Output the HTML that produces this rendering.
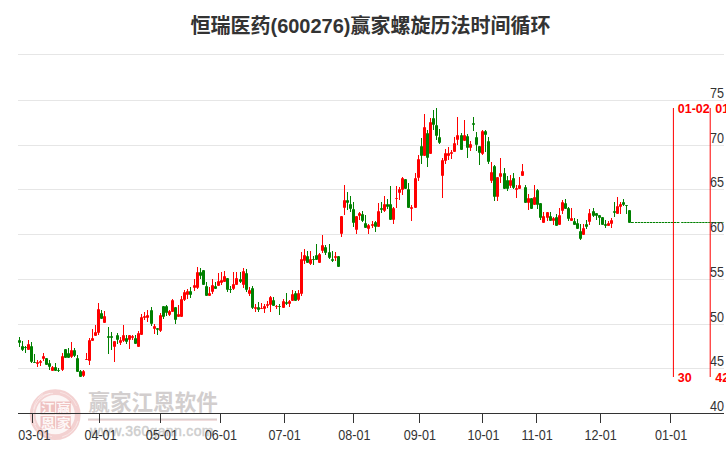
<!DOCTYPE html>
<html><head><meta charset="utf-8"><title>恒瑞医药(600276)赢家螺旋历法时间循环</title>
<style>
html,body{margin:0;padding:0;background:#fff;}
body{width:726px;height:450px;overflow:hidden;font-family:"Liberation Sans",sans-serif;}
svg{display:block;position:absolute;left:0;top:0;}
.ax{font-family:"Liberation Sans",sans-serif;font-size:14px;fill:#333;}
.wm{font-family:"Liberation Sans",sans-serif;font-weight:normal;font-size:14px;fill:#cecece;stroke:#cecece;stroke-width:0.45px;letter-spacing:0.35px;}
.seal{font-family:"Liberation Sans","Noto Sans CJK SC",sans-serif;font-weight:bold;font-size:14px;fill:#fff;opacity:0.88;}
.cyc{font-family:"Liberation Sans",sans-serif;font-weight:bold;font-size:12.5px;fill:#ff0000;}
</style></head><body>
<svg width="726" height="450" viewBox="0 0 726 450">
<rect width="726" height="450" fill="#fff"/>
<g id="watermark">
<g opacity="0.2">
<circle cx="55.2" cy="414.7" r="25" fill="#c8201f" opacity="0.18"/>
<circle cx="55.2" cy="414.7" r="22.5" fill="none" stroke="#c8201f" stroke-width="5.8"/>
</g>
<path d="M35.5 425 A22.3 22.3 0 0 1 50 393.5" fill="none" stroke="#fff" stroke-width="0.9" opacity="0.55"/>
<path d="M62 437 A23.5 23.5 0 0 0 78 421" fill="none" stroke="#fff" stroke-width="0.9" opacity="0.5"/>
<path d="M60 392.2 A23 23 0 0 1 76.5 406" fill="none" stroke="#fff" stroke-width="0.8" opacity="0.45"/>
<path d="M38 399 A21.5 21.5 0 0 1 53 393.3" fill="none" stroke="#fff" stroke-width="0.8" opacity="0.55"/>
<path d="M33.5 409 A24.2 24.2 0 0 1 43 393.5" fill="none" stroke="#fff" stroke-width="0.7" opacity="0.5"/>
<path d="M34 424 A22 22 0 0 0 52 436.6" fill="none" stroke="#fff" stroke-width="0.8" opacity="0.45"/>
<g fill="#c8201f" opacity="0.24">
<rect x="40.5" y="401.5" width="14.6" height="13"/><rect x="56.2" y="401.5" width="14.6" height="13"/>
<rect x="40.5" y="416" width="14.6" height="12.8"/><rect x="56.2" y="416" width="14.6" height="12.8"/>
</g>
<text class="seal" transform="translate(41,413.3) scale(1,0.86)" x="0" y="0">江</text>
<text class="seal" transform="translate(56.7,413.3) scale(1,0.86)" x="0" y="0">赢</text>
<text class="seal" transform="translate(41,427.5) scale(1,0.86)" x="0" y="0">恩</text>
<text class="seal" transform="translate(56.7,427.5) scale(1,0.86)" x="0" y="0">家</text>
<text x="88.3" y="409.7" font-family="&quot;Liberation Sans&quot;,&quot;Noto Sans CJK SC&quot;,sans-serif" font-weight="bold" font-size="21.6" fill="#d2cece">赢家江恩软件</text>
<rect x="88" y="418" width="129" height="1" fill="#e9e7e6"/><rect x="88" y="419" width="129" height="1" fill="#ddcdcd"/><rect x="88" y="420" width="129" height="1" fill="#f1dede"/>
<text class="wm" x="90.3" y="435.5">www.360gann.com</text>
</g>
<g id="grid" shape-rendering="crispEdges">
<rect x="18" y="54" width="706" height="1" fill="#e6e6e6"/>
<rect x="18" y="100" width="706" height="1" fill="#e6e6e6"/>
<rect x="18" y="145" width="706" height="1" fill="#e6e6e6"/>
<rect x="18" y="189" width="706" height="1" fill="#e6e6e6"/>
<rect x="18" y="234" width="706" height="1" fill="#e6e6e6"/>
<rect x="18" y="279" width="706" height="1" fill="#e6e6e6"/>
<rect x="18" y="324" width="706" height="1" fill="#e6e6e6"/>
<rect x="18" y="368" width="706" height="1" fill="#e6e6e6"/>
</g>
<g id="candles">
<rect x="19" y="337" width="1" height="10" fill="#008000"/><rect x="18" y="340" width="3" height="3" rx="1" ry="1" fill="#008000"/>
<rect x="22" y="341" width="1" height="10" fill="#008000"/><rect x="21" y="346" width="3" height="4" rx="1" ry="1" fill="#008000"/>
<rect x="25" y="346" width="1" height="7" fill="#008000"/><rect x="24" y="347" width="3" height="1" rx="1" ry="1" fill="#008000"/>
<rect x="28" y="340" width="1" height="10" fill="#ff0000"/><rect x="27" y="344" width="3" height="6" rx="1" ry="1" fill="#ff0000"/>
<rect x="31" y="342" width="1" height="21" fill="#008000"/><rect x="30" y="346" width="3" height="16" rx="1" ry="1" fill="#008000"/>
<rect x="34" y="354" width="1" height="9" fill="#008000"/><rect x="33" y="362" width="3" height="1" rx="1" ry="1" fill="#008000"/>
<rect x="37" y="360" width="1" height="7" fill="#ff0000"/><rect x="36" y="362" width="3" height="2" rx="1" ry="1" fill="#ff0000"/>
<rect x="40" y="360" width="1" height="6" fill="#ff0000"/><rect x="39" y="361" width="3" height="2" rx="1" ry="1" fill="#ff0000"/>
<rect x="43" y="353" width="1" height="8" fill="#ff0000"/><rect x="42" y="356" width="3" height="3" rx="1" ry="1" fill="#ff0000"/>
<rect x="46" y="358" width="1" height="7" fill="#008000"/><rect x="45" y="358" width="3" height="7" rx="1" ry="1" fill="#008000"/>
<rect x="49" y="360" width="1" height="10" fill="#008000"/><rect x="48" y="363" width="3" height="4" rx="1" ry="1" fill="#008000"/>
<rect x="52" y="366" width="1" height="5" fill="#ff0000"/><rect x="51" y="367" width="3" height="4" rx="1" ry="1" fill="#ff0000"/>
<rect x="55" y="363" width="1" height="8" fill="#008000"/><rect x="54" y="367" width="3" height="4" rx="1" ry="1" fill="#008000"/>
<rect x="58" y="368" width="1" height="4" fill="#008000"/><rect x="57" y="370" width="3" height="1" rx="1" ry="1" fill="#008000"/>
<rect x="62" y="353" width="1" height="18" fill="#ff0000"/><rect x="61" y="356" width="3" height="14" rx="1" ry="1" fill="#ff0000"/>
<rect x="65" y="349" width="1" height="9" fill="#008000"/><rect x="64" y="349" width="3" height="9" rx="1" ry="1" fill="#008000"/>
<rect x="68" y="348" width="1" height="10" fill="#008000"/><rect x="67" y="353" width="3" height="5" rx="1" ry="1" fill="#008000"/>
<rect x="71" y="342" width="1" height="16" fill="#ff0000"/><rect x="70" y="350" width="3" height="7" rx="1" ry="1" fill="#ff0000"/>
<rect x="74" y="348" width="1" height="9" fill="#008000"/><rect x="73" y="350" width="3" height="6" rx="1" ry="1" fill="#008000"/>
<rect x="77" y="355" width="1" height="17" fill="#008000"/><rect x="76" y="358" width="3" height="14" rx="1" ry="1" fill="#008000"/>
<rect x="80" y="370" width="1" height="7" fill="#008000"/><rect x="79" y="371" width="3" height="6" rx="1" ry="1" fill="#008000"/>
<rect x="83" y="370" width="1" height="7" fill="#ff0000"/><rect x="82" y="371" width="3" height="5" rx="1" ry="1" fill="#ff0000"/>
<rect x="86" y="353" width="1" height="7" fill="#ff0000"/><rect x="85" y="359" width="3" height="1" rx="1" ry="1" fill="#ff0000"/>
<rect x="89" y="338" width="1" height="27" fill="#ff0000"/><rect x="88" y="340" width="3" height="21" rx="1" ry="1" fill="#ff0000"/>
<rect x="92" y="329" width="1" height="12" fill="#ff0000"/><rect x="91" y="338" width="3" height="3" rx="1" ry="1" fill="#ff0000"/>
<rect x="95" y="325" width="1" height="11" fill="#ff0000"/><rect x="94" y="332" width="3" height="4" rx="1" ry="1" fill="#ff0000"/>
<rect x="98" y="303" width="1" height="32" fill="#ff0000"/><rect x="97" y="309" width="3" height="24" rx="1" ry="1" fill="#ff0000"/>
<rect x="101" y="310" width="1" height="9" fill="#008000"/><rect x="100" y="313" width="3" height="6" rx="1" ry="1" fill="#008000"/>
<rect x="104" y="311" width="1" height="12" fill="#ff0000"/><rect x="103" y="316" width="3" height="7" rx="1" ry="1" fill="#ff0000"/>
<rect x="108" y="327" width="1" height="27" fill="#008000"/><rect x="107" y="336" width="3" height="2" rx="1" ry="1" fill="#008000"/>
<rect x="111" y="332" width="1" height="18" fill="#008000"/><rect x="110" y="336" width="3" height="2" rx="1" ry="1" fill="#008000"/>
<rect x="114" y="341" width="1" height="21" fill="#ff0000"/><rect x="113" y="341" width="3" height="6" rx="1" ry="1" fill="#ff0000"/>
<rect x="117" y="333" width="1" height="11" fill="#008000"/><rect x="116" y="335" width="3" height="5" rx="1" ry="1" fill="#008000"/>
<rect x="120" y="337" width="1" height="8" fill="#ff0000"/><rect x="119" y="340" width="3" height="3" rx="1" ry="1" fill="#ff0000"/>
<rect x="123" y="325" width="1" height="17" fill="#ff0000"/><rect x="122" y="335" width="3" height="6" rx="1" ry="1" fill="#ff0000"/>
<rect x="126" y="335" width="1" height="9" fill="#008000"/><rect x="125" y="338" width="3" height="4" rx="1" ry="1" fill="#008000"/>
<rect x="129" y="335" width="1" height="14" fill="#ff0000"/><rect x="128" y="335" width="3" height="5" rx="1" ry="1" fill="#ff0000"/>
<rect x="132" y="335" width="1" height="5" fill="#ff0000"/><rect x="131" y="336" width="3" height="2" rx="1" ry="1" fill="#ff0000"/>
<rect x="135" y="335" width="1" height="9" fill="#008000"/><rect x="134" y="338" width="3" height="6" rx="1" ry="1" fill="#008000"/>
<rect x="138" y="331" width="1" height="16" fill="#ff0000"/><rect x="137" y="333" width="3" height="14" rx="1" ry="1" fill="#ff0000"/>
<rect x="141" y="314" width="1" height="21" fill="#ff0000"/><rect x="140" y="317" width="3" height="18" rx="1" ry="1" fill="#ff0000"/>
<rect x="144" y="312" width="1" height="8" fill="#ff0000"/><rect x="143" y="316" width="3" height="2" rx="1" ry="1" fill="#ff0000"/>
<rect x="147" y="310" width="1" height="12" fill="#ff0000"/><rect x="146" y="315" width="3" height="3" rx="1" ry="1" fill="#ff0000"/>
<rect x="151" y="307" width="1" height="19" fill="#008000"/><rect x="150" y="310" width="3" height="14" rx="1" ry="1" fill="#008000"/>
<rect x="154" y="324" width="1" height="10" fill="#ff0000"/><rect x="153" y="326" width="3" height="3" rx="1" ry="1" fill="#ff0000"/>
<rect x="157" y="328" width="1" height="7" fill="#008000"/><rect x="156" y="328" width="3" height="2" rx="1" ry="1" fill="#008000"/>
<rect x="160" y="313" width="1" height="19" fill="#ff0000"/><rect x="159" y="315" width="3" height="16" rx="1" ry="1" fill="#ff0000"/>
<rect x="163" y="306" width="1" height="13" fill="#008000"/><rect x="162" y="306" width="3" height="11" rx="1" ry="1" fill="#008000"/>
<rect x="166" y="305" width="1" height="11" fill="#008000"/><rect x="165" y="306" width="3" height="7" rx="1" ry="1" fill="#008000"/>
<rect x="169" y="310" width="1" height="6" fill="#ff0000"/><rect x="168" y="311" width="3" height="4" rx="1" ry="1" fill="#ff0000"/>
<rect x="172" y="299" width="1" height="13" fill="#ff0000"/><rect x="171" y="300" width="3" height="12" rx="1" ry="1" fill="#ff0000"/>
<rect x="175" y="307" width="1" height="17" fill="#008000"/><rect x="174" y="307" width="3" height="13" rx="1" ry="1" fill="#008000"/>
<rect x="178" y="305" width="1" height="12" fill="#ff0000"/><rect x="177" y="314" width="3" height="3" rx="1" ry="1" fill="#ff0000"/>
<rect x="181" y="296" width="1" height="21" fill="#ff0000"/><rect x="180" y="299" width="3" height="18" rx="1" ry="1" fill="#ff0000"/>
<rect x="184" y="290" width="1" height="11" fill="#ff0000"/><rect x="183" y="292" width="3" height="8" rx="1" ry="1" fill="#ff0000"/>
<rect x="187" y="289" width="1" height="10" fill="#ff0000"/><rect x="186" y="291" width="3" height="4" rx="1" ry="1" fill="#ff0000"/>
<rect x="190" y="287" width="1" height="11" fill="#008000"/><rect x="189" y="291" width="3" height="4" rx="1" ry="1" fill="#008000"/>
<rect x="194" y="279" width="1" height="12" fill="#ff0000"/><rect x="193" y="285" width="3" height="3" rx="1" ry="1" fill="#ff0000"/>
<rect x="197" y="267" width="1" height="22" fill="#ff0000"/><rect x="196" y="272" width="3" height="16" rx="1" ry="1" fill="#ff0000"/>
<rect x="200" y="268" width="1" height="11" fill="#008000"/><rect x="199" y="272" width="3" height="4" rx="1" ry="1" fill="#008000"/>
<rect x="203" y="270" width="1" height="15" fill="#008000"/><rect x="202" y="270" width="3" height="15" rx="1" ry="1" fill="#008000"/>
<rect x="206" y="282" width="1" height="14" fill="#008000"/><rect x="205" y="286" width="3" height="10" rx="1" ry="1" fill="#008000"/>
<rect x="209" y="287" width="1" height="9" fill="#ff0000"/><rect x="208" y="293" width="3" height="3" rx="1" ry="1" fill="#ff0000"/>
<rect x="212" y="279" width="1" height="15" fill="#ff0000"/><rect x="211" y="285" width="3" height="7" rx="1" ry="1" fill="#ff0000"/>
<rect x="215" y="282" width="1" height="7" fill="#008000"/><rect x="214" y="286" width="3" height="3" rx="1" ry="1" fill="#008000"/>
<rect x="218" y="273" width="1" height="13" fill="#ff0000"/><rect x="217" y="281" width="3" height="5" rx="1" ry="1" fill="#ff0000"/>
<rect x="221" y="272" width="1" height="13" fill="#ff0000"/><rect x="220" y="280" width="3" height="3" rx="1" ry="1" fill="#ff0000"/>
<rect x="224" y="271" width="1" height="11" fill="#ff0000"/><rect x="223" y="276" width="3" height="6" rx="1" ry="1" fill="#ff0000"/>
<rect x="227" y="278" width="1" height="14" fill="#008000"/><rect x="226" y="278" width="3" height="12" rx="1" ry="1" fill="#008000"/>
<rect x="230" y="286" width="1" height="7" fill="#008000"/><rect x="229" y="289" width="3" height="1" rx="1" ry="1" fill="#008000"/>
<rect x="233" y="272" width="1" height="18" fill="#ff0000"/><rect x="232" y="284" width="3" height="5" rx="1" ry="1" fill="#ff0000"/>
<rect x="236" y="272" width="1" height="13" fill="#ff0000"/><rect x="235" y="278" width="3" height="7" rx="1" ry="1" fill="#ff0000"/>
<rect x="240" y="272" width="1" height="11" fill="#008000"/><rect x="239" y="279" width="3" height="3" rx="1" ry="1" fill="#008000"/>
<rect x="243" y="268" width="1" height="20" fill="#ff0000"/><rect x="242" y="271" width="3" height="14" rx="1" ry="1" fill="#ff0000"/>
<rect x="246" y="269" width="1" height="23" fill="#008000"/><rect x="245" y="273" width="3" height="17" rx="1" ry="1" fill="#008000"/>
<rect x="249" y="287" width="1" height="9" fill="#ff0000"/><rect x="248" y="290" width="3" height="4" rx="1" ry="1" fill="#ff0000"/>
<rect x="252" y="286" width="1" height="23" fill="#008000"/><rect x="251" y="288" width="3" height="20" rx="1" ry="1" fill="#008000"/>
<rect x="255" y="304" width="1" height="8" fill="#ff0000"/><rect x="254" y="307" width="3" height="2" rx="1" ry="1" fill="#ff0000"/>
<rect x="258" y="302" width="1" height="10" fill="#008000"/><rect x="257" y="307" width="3" height="3" rx="1" ry="1" fill="#008000"/>
<rect x="261" y="303" width="1" height="6" fill="#ff0000"/><rect x="260" y="308" width="3" height="1" rx="1" ry="1" fill="#ff0000"/>
<rect x="264" y="304" width="1" height="9" fill="#ff0000"/><rect x="263" y="306" width="3" height="3" rx="1" ry="1" fill="#ff0000"/>
<rect x="267" y="301" width="1" height="7" fill="#ff0000"/><rect x="266" y="304" width="3" height="2" rx="1" ry="1" fill="#ff0000"/>
<rect x="270" y="296" width="1" height="16" fill="#ff0000"/><rect x="269" y="297" width="3" height="8" rx="1" ry="1" fill="#ff0000"/>
<rect x="273" y="297" width="1" height="9" fill="#008000"/><rect x="272" y="300" width="3" height="6" rx="1" ry="1" fill="#008000"/>
<rect x="276" y="305" width="1" height="4" fill="#ff0000"/><rect x="275" y="306" width="3" height="1" rx="1" ry="1" fill="#ff0000"/>
<rect x="279" y="304" width="1" height="11" fill="#008000"/><rect x="278" y="306" width="3" height="1" rx="1" ry="1" fill="#008000"/>
<rect x="283" y="299" width="1" height="9" fill="#ff0000"/><rect x="282" y="301" width="3" height="7" rx="1" ry="1" fill="#ff0000"/>
<rect x="286" y="293" width="1" height="12" fill="#008000"/><rect x="285" y="302" width="3" height="2" rx="1" ry="1" fill="#008000"/>
<rect x="289" y="300" width="1" height="7" fill="#ff0000"/><rect x="288" y="301" width="3" height="3" rx="1" ry="1" fill="#ff0000"/>
<rect x="292" y="290" width="1" height="11" fill="#ff0000"/><rect x="291" y="294" width="3" height="7" rx="1" ry="1" fill="#ff0000"/>
<rect x="295" y="291" width="1" height="10" fill="#008000"/><rect x="294" y="293" width="3" height="8" rx="1" ry="1" fill="#008000"/>
<rect x="298" y="290" width="1" height="11" fill="#ff0000"/><rect x="297" y="293" width="3" height="7" rx="1" ry="1" fill="#ff0000"/>
<rect x="301" y="252" width="1" height="44" fill="#ff0000"/><rect x="300" y="259" width="3" height="35" rx="1" ry="1" fill="#ff0000"/>
<rect x="304" y="249" width="1" height="15" fill="#ff0000"/><rect x="303" y="255" width="3" height="6" rx="1" ry="1" fill="#ff0000"/>
<rect x="307" y="251" width="1" height="12" fill="#008000"/><rect x="306" y="256" width="3" height="7" rx="1" ry="1" fill="#008000"/>
<rect x="310" y="251" width="1" height="14" fill="#ff0000"/><rect x="309" y="259" width="3" height="5" rx="1" ry="1" fill="#ff0000"/>
<rect x="313" y="256" width="1" height="9" fill="#008000"/><rect x="312" y="259" width="3" height="1" rx="1" ry="1" fill="#008000"/>
<rect x="316" y="244" width="1" height="16" fill="#008000"/><rect x="315" y="255" width="3" height="5" rx="1" ry="1" fill="#008000"/>
<rect x="319" y="253" width="1" height="10" fill="#ff0000"/><rect x="318" y="254" width="3" height="9" rx="1" ry="1" fill="#ff0000"/>
<rect x="322" y="235" width="1" height="18" fill="#ff0000"/><rect x="321" y="245" width="3" height="6" rx="1" ry="1" fill="#ff0000"/>
<rect x="325" y="245" width="1" height="10" fill="#008000"/><rect x="324" y="247" width="3" height="6" rx="1" ry="1" fill="#008000"/>
<rect x="329" y="244" width="1" height="15" fill="#008000"/><rect x="328" y="252" width="3" height="6" rx="1" ry="1" fill="#008000"/>
<rect x="332" y="251" width="1" height="11" fill="#008000"/><rect x="331" y="259" width="3" height="2" rx="1" ry="1" fill="#008000"/>
<rect x="335" y="252" width="1" height="9" fill="#ff0000"/><rect x="334" y="256" width="3" height="2" rx="1" ry="1" fill="#ff0000"/>
<rect x="338" y="256" width="1" height="11" fill="#008000"/><rect x="337" y="256" width="3" height="11" rx="1" ry="1" fill="#008000"/>
<rect x="341" y="216" width="1" height="21" fill="#ff0000"/><rect x="340" y="216" width="3" height="18" rx="1" ry="1" fill="#ff0000"/>
<rect x="344" y="185" width="1" height="30" fill="#ff0000"/><rect x="343" y="200" width="3" height="8" rx="1" ry="1" fill="#ff0000"/>
<rect x="347" y="192" width="1" height="18" fill="#008000"/><rect x="346" y="200" width="3" height="3" rx="1" ry="1" fill="#008000"/>
<rect x="350" y="196" width="1" height="16" fill="#008000"/><rect x="349" y="204" width="3" height="5" rx="1" ry="1" fill="#008000"/>
<rect x="353" y="202" width="1" height="25" fill="#008000"/><rect x="352" y="209" width="3" height="14" rx="1" ry="1" fill="#008000"/>
<rect x="356" y="216" width="1" height="18" fill="#ff0000"/><rect x="355" y="216" width="3" height="14" rx="1" ry="1" fill="#ff0000"/>
<rect x="359" y="212" width="1" height="8" fill="#ff0000"/><rect x="358" y="213" width="3" height="3" rx="1" ry="1" fill="#ff0000"/>
<rect x="362" y="211" width="1" height="11" fill="#008000"/><rect x="361" y="214" width="3" height="7" rx="1" ry="1" fill="#008000"/>
<rect x="365" y="215" width="1" height="13" fill="#008000"/><rect x="364" y="223" width="3" height="5" rx="1" ry="1" fill="#008000"/>
<rect x="368" y="224" width="1" height="10" fill="#ff0000"/><rect x="367" y="225" width="3" height="4" rx="1" ry="1" fill="#ff0000"/>
<rect x="372" y="221" width="1" height="7" fill="#ff0000"/><rect x="371" y="224" width="3" height="2" rx="1" ry="1" fill="#ff0000"/>
<rect x="375" y="221" width="1" height="11" fill="#008000"/><rect x="374" y="222" width="3" height="5" rx="1" ry="1" fill="#008000"/>
<rect x="378" y="203" width="1" height="24" fill="#ff0000"/><rect x="377" y="211" width="3" height="16" rx="1" ry="1" fill="#ff0000"/>
<rect x="381" y="202" width="1" height="11" fill="#008000"/><rect x="380" y="208" width="3" height="2" rx="1" ry="1" fill="#008000"/>
<rect x="384" y="196" width="1" height="16" fill="#ff0000"/><rect x="383" y="204" width="3" height="7" rx="1" ry="1" fill="#ff0000"/>
<rect x="387" y="199" width="1" height="10" fill="#008000"/><rect x="386" y="204" width="3" height="3" rx="1" ry="1" fill="#008000"/>
<rect x="390" y="186" width="1" height="34" fill="#008000"/><rect x="389" y="204" width="3" height="16" rx="1" ry="1" fill="#008000"/>
<rect x="393" y="207" width="1" height="17" fill="#ff0000"/><rect x="392" y="208" width="3" height="12" rx="1" ry="1" fill="#ff0000"/>
<rect x="396" y="186" width="1" height="22" fill="#ff0000"/><rect x="395" y="198" width="3" height="1" rx="1" ry="1" fill="#ff0000"/>
<rect x="399" y="187" width="1" height="13" fill="#ff0000"/><rect x="398" y="189" width="3" height="4" rx="1" ry="1" fill="#ff0000"/>
<rect x="402" y="177" width="1" height="18" fill="#ff0000"/><rect x="401" y="178" width="3" height="12" rx="1" ry="1" fill="#ff0000"/>
<rect x="405" y="179" width="1" height="10" fill="#008000"/><rect x="404" y="179" width="3" height="10" rx="1" ry="1" fill="#008000"/>
<rect x="408" y="183" width="1" height="25" fill="#008000"/><rect x="407" y="189" width="3" height="19" rx="1" ry="1" fill="#008000"/>
<rect x="411" y="205" width="1" height="16" fill="#ff0000"/><rect x="410" y="207" width="3" height="2" rx="1" ry="1" fill="#ff0000"/>
<rect x="415" y="173" width="1" height="35" fill="#ff0000"/><rect x="414" y="178" width="3" height="30" rx="1" ry="1" fill="#ff0000"/>
<rect x="418" y="155" width="1" height="26" fill="#ff0000"/><rect x="417" y="159" width="3" height="19" rx="1" ry="1" fill="#ff0000"/>
<rect x="421" y="138" width="1" height="26" fill="#008000"/><rect x="420" y="146" width="3" height="10" rx="1" ry="1" fill="#008000"/>
<rect x="424" y="114" width="1" height="42" fill="#ff0000"/><rect x="423" y="127" width="3" height="29" rx="1" ry="1" fill="#ff0000"/>
<rect x="427" y="130" width="1" height="37" fill="#008000"/><rect x="426" y="133" width="3" height="25" rx="1" ry="1" fill="#008000"/>
<rect x="430" y="118" width="1" height="36" fill="#ff0000"/><rect x="429" y="122" width="3" height="32" rx="1" ry="1" fill="#ff0000"/>
<rect x="433" y="110" width="1" height="20" fill="#008000"/><rect x="432" y="118" width="3" height="7" rx="1" ry="1" fill="#008000"/>
<rect x="436" y="108" width="1" height="32" fill="#008000"/><rect x="435" y="125" width="3" height="11" rx="1" ry="1" fill="#008000"/>
<rect x="439" y="129" width="1" height="15" fill="#008000"/><rect x="438" y="137" width="3" height="6" rx="1" ry="1" fill="#008000"/>
<rect x="442" y="158" width="1" height="40" fill="#ff0000"/><rect x="441" y="160" width="3" height="16" rx="1" ry="1" fill="#ff0000"/>
<rect x="445" y="149" width="1" height="15" fill="#ff0000"/><rect x="444" y="153" width="3" height="8" rx="1" ry="1" fill="#ff0000"/>
<rect x="448" y="147" width="1" height="13" fill="#ff0000"/><rect x="447" y="153" width="3" height="3" rx="1" ry="1" fill="#ff0000"/>
<rect x="451" y="150" width="1" height="9" fill="#ff0000"/><rect x="450" y="152" width="3" height="2" rx="1" ry="1" fill="#ff0000"/>
<rect x="454" y="137" width="1" height="15" fill="#ff0000"/><rect x="453" y="143" width="3" height="9" rx="1" ry="1" fill="#ff0000"/>
<rect x="457" y="117" width="1" height="28" fill="#ff0000"/><rect x="456" y="135" width="3" height="5" rx="1" ry="1" fill="#ff0000"/>
<rect x="461" y="133" width="1" height="17" fill="#008000"/><rect x="460" y="135" width="3" height="15" rx="1" ry="1" fill="#008000"/>
<rect x="464" y="120" width="1" height="21" fill="#ff0000"/><rect x="463" y="135" width="3" height="6" rx="1" ry="1" fill="#ff0000"/>
<rect x="467" y="134" width="1" height="24" fill="#008000"/><rect x="466" y="136" width="3" height="12" rx="1" ry="1" fill="#008000"/>
<rect x="470" y="141" width="1" height="10" fill="#ff0000"/><rect x="469" y="144" width="3" height="4" rx="1" ry="1" fill="#ff0000"/>
<rect x="473" y="117" width="1" height="14" fill="#008000"/><rect x="472" y="123" width="3" height="2" rx="1" ry="1" fill="#008000"/>
<rect x="476" y="132" width="1" height="19" fill="#008000"/><rect x="475" y="137" width="3" height="8" rx="1" ry="1" fill="#008000"/>
<rect x="479" y="146" width="1" height="19" fill="#008000"/><rect x="478" y="146" width="3" height="7" rx="1" ry="1" fill="#008000"/>
<rect x="482" y="130" width="1" height="25" fill="#ff0000"/><rect x="481" y="131" width="3" height="23" rx="1" ry="1" fill="#ff0000"/>
<rect x="485" y="130" width="1" height="22" fill="#008000"/><rect x="484" y="131" width="3" height="4" rx="1" ry="1" fill="#008000"/>
<rect x="488" y="137" width="1" height="27" fill="#008000"/><rect x="487" y="141" width="3" height="21" rx="1" ry="1" fill="#008000"/>
<rect x="491" y="162" width="1" height="21" fill="#ff0000"/><rect x="490" y="172" width="3" height="9" rx="1" ry="1" fill="#ff0000"/>
<rect x="494" y="165" width="1" height="36" fill="#008000"/><rect x="493" y="166" width="3" height="31" rx="1" ry="1" fill="#008000"/>
<rect x="497" y="177" width="1" height="24" fill="#ff0000"/><rect x="496" y="177" width="3" height="20" rx="1" ry="1" fill="#ff0000"/>
<rect x="500" y="158" width="1" height="25" fill="#ff0000"/><rect x="499" y="173" width="3" height="4" rx="1" ry="1" fill="#ff0000"/>
<rect x="504" y="168" width="1" height="21" fill="#008000"/><rect x="503" y="173" width="3" height="16" rx="1" ry="1" fill="#008000"/>
<rect x="507" y="176" width="1" height="15" fill="#008000"/><rect x="506" y="180" width="3" height="9" rx="1" ry="1" fill="#008000"/>
<rect x="510" y="175" width="1" height="13" fill="#ff0000"/><rect x="509" y="180" width="3" height="6" rx="1" ry="1" fill="#ff0000"/>
<rect x="513" y="173" width="1" height="16" fill="#008000"/><rect x="512" y="178" width="3" height="10" rx="1" ry="1" fill="#008000"/>
<rect x="516" y="185" width="1" height="13" fill="#ff0000"/><rect x="515" y="188" width="3" height="2" rx="1" ry="1" fill="#ff0000"/>
<rect x="519" y="177" width="1" height="12" fill="#ff0000"/><rect x="518" y="185" width="3" height="4" rx="1" ry="1" fill="#ff0000"/>
<rect x="522" y="164" width="1" height="12" fill="#ff0000"/><rect x="521" y="171" width="3" height="5" rx="1" ry="1" fill="#ff0000"/>
<rect x="525" y="185" width="1" height="18" fill="#008000"/><rect x="524" y="187" width="3" height="16" rx="1" ry="1" fill="#008000"/>
<rect x="528" y="194" width="1" height="16" fill="#ff0000"/><rect x="527" y="198" width="3" height="5" rx="1" ry="1" fill="#ff0000"/>
<rect x="531" y="198" width="1" height="11" fill="#008000"/><rect x="530" y="198" width="3" height="11" rx="1" ry="1" fill="#008000"/>
<rect x="534" y="185" width="1" height="20" fill="#ff0000"/><rect x="533" y="197" width="3" height="8" rx="1" ry="1" fill="#ff0000"/>
<rect x="537" y="189" width="1" height="20" fill="#008000"/><rect x="536" y="190" width="3" height="15" rx="1" ry="1" fill="#008000"/>
<rect x="540" y="203" width="1" height="17" fill="#008000"/><rect x="539" y="203" width="3" height="15" rx="1" ry="1" fill="#008000"/>
<rect x="543" y="212" width="1" height="11" fill="#ff0000"/><rect x="542" y="216" width="3" height="7" rx="1" ry="1" fill="#ff0000"/>
<rect x="547" y="212" width="1" height="9" fill="#ff0000"/><rect x="546" y="212" width="3" height="6" rx="1" ry="1" fill="#ff0000"/>
<rect x="550" y="212" width="1" height="9" fill="#008000"/><rect x="549" y="216" width="3" height="5" rx="1" ry="1" fill="#008000"/>
<rect x="553" y="217" width="1" height="8" fill="#ff0000"/><rect x="552" y="218" width="3" height="3" rx="1" ry="1" fill="#ff0000"/>
<rect x="556" y="214" width="1" height="12" fill="#008000"/><rect x="555" y="217" width="3" height="9" rx="1" ry="1" fill="#008000"/>
<rect x="559" y="208" width="1" height="17" fill="#ff0000"/><rect x="558" y="215" width="3" height="10" rx="1" ry="1" fill="#ff0000"/>
<rect x="562" y="200" width="1" height="14" fill="#ff0000"/><rect x="561" y="202" width="3" height="9" rx="1" ry="1" fill="#ff0000"/>
<rect x="565" y="199" width="1" height="10" fill="#008000"/><rect x="564" y="203" width="3" height="6" rx="1" ry="1" fill="#008000"/>
<rect x="568" y="207" width="1" height="14" fill="#008000"/><rect x="567" y="208" width="3" height="11" rx="1" ry="1" fill="#008000"/>
<rect x="571" y="208" width="1" height="13" fill="#ff0000"/><rect x="570" y="218" width="3" height="3" rx="1" ry="1" fill="#ff0000"/>
<rect x="574" y="218" width="1" height="7" fill="#008000"/><rect x="573" y="221" width="3" height="4" rx="1" ry="1" fill="#008000"/>
<rect x="577" y="219" width="1" height="10" fill="#008000"/><rect x="576" y="223" width="3" height="6" rx="1" ry="1" fill="#008000"/>
<rect x="580" y="224" width="1" height="16" fill="#008000"/><rect x="579" y="231" width="3" height="8" rx="1" ry="1" fill="#008000"/>
<rect x="583" y="224" width="1" height="11" fill="#ff0000"/><rect x="582" y="228" width="3" height="7" rx="1" ry="1" fill="#ff0000"/>
<rect x="586" y="220" width="1" height="9" fill="#008000"/><rect x="585" y="224" width="3" height="3" rx="1" ry="1" fill="#008000"/>
<rect x="589" y="209" width="1" height="16" fill="#ff0000"/><rect x="588" y="213" width="3" height="9" rx="1" ry="1" fill="#ff0000"/>
<rect x="593" y="208" width="1" height="9" fill="#008000"/><rect x="592" y="211" width="3" height="5" rx="1" ry="1" fill="#008000"/>
<rect x="596" y="213" width="1" height="7" fill="#008000"/><rect x="595" y="213" width="3" height="3" rx="1" ry="1" fill="#008000"/>
<rect x="599" y="215" width="1" height="10" fill="#008000"/><rect x="598" y="215" width="3" height="3" rx="1" ry="1" fill="#008000"/>
<rect x="602" y="217" width="1" height="8" fill="#008000"/><rect x="601" y="217" width="3" height="8" rx="1" ry="1" fill="#008000"/>
<rect x="605" y="220" width="1" height="8" fill="#008000"/><rect x="604" y="224" width="3" height="2" rx="1" ry="1" fill="#008000"/>
<rect x="608" y="221" width="1" height="5" fill="#ff0000"/><rect x="607" y="223" width="3" height="3" rx="1" ry="1" fill="#ff0000"/>
<rect x="611" y="218" width="1" height="10" fill="#ff0000"/><rect x="610" y="220" width="3" height="4" rx="1" ry="1" fill="#ff0000"/>
<rect x="614" y="202" width="1" height="15" fill="#008000"/><rect x="613" y="211" width="3" height="2" rx="1" ry="1" fill="#008000"/>
<rect x="617" y="197" width="1" height="17" fill="#ff0000"/><rect x="616" y="206" width="3" height="8" rx="1" ry="1" fill="#ff0000"/>
<rect x="620" y="202" width="1" height="12" fill="#ff0000"/><rect x="619" y="204" width="3" height="3" rx="1" ry="1" fill="#ff0000"/>
<rect x="623" y="199" width="1" height="7" fill="#008000"/><rect x="622" y="202" width="3" height="3" rx="1" ry="1" fill="#008000"/>
<rect x="626" y="205" width="1" height="9" fill="#008000"/><rect x="625" y="205" width="3" height="1" rx="1" ry="1" fill="#008000"/>
<rect x="629" y="210" width="1" height="13" fill="#008000"/><rect x="628" y="210" width="3" height="13" rx="1" ry="1" fill="#008000"/>
</g>
<g stroke="#008000" stroke-width="1" fill="none">
<line x1="631" y1="222.5" x2="633.8" y2="222.5"/>
<line x1="635" y1="222.5" x2="679.8" y2="222.5" stroke-dasharray="2.4 0.6"/>
<line x1="681.2" y1="222.5" x2="723.6" y2="222.5" stroke-dasharray="2.4 0.6"/>
</g>
<g id="axis" shape-rendering="crispEdges">
<rect x="18" y="413" width="706" height="1" fill="#333"/>
<rect x="32" y="413" width="1" height="10" fill="#333"/>
<rect x="99" y="413" width="1" height="10" fill="#333"/>
<rect x="160" y="413" width="1" height="10" fill="#333"/>
<rect x="220" y="413" width="1" height="10" fill="#333"/>
<rect x="284" y="413" width="1" height="10" fill="#333"/>
<rect x="353" y="413" width="1" height="10" fill="#333"/>
<rect x="419" y="413" width="1" height="10" fill="#333"/>
<rect x="482" y="413" width="1" height="10" fill="#333"/>
<rect x="536" y="413" width="1" height="10" fill="#333"/>
<rect x="600" y="413" width="1" height="10" fill="#333"/>
<rect x="670" y="413" width="1" height="10" fill="#333"/>
</g>
<g id="xlabels" text-anchor="middle" class="ax">
<text transform="translate(34.4,440) scale(0.9,1)">03-01</text>
<text transform="translate(100.5,440) scale(0.9,1)">04-01</text>
<text transform="translate(161.8,440) scale(0.9,1)">05-01</text>
<text transform="translate(220.8,440) scale(0.9,1)">06-01</text>
<text transform="translate(284.7,440) scale(0.9,1)">07-01</text>
<text transform="translate(354.4,440) scale(0.9,1)">08-01</text>
<text transform="translate(419.8,440) scale(0.9,1)">09-01</text>
<text transform="translate(483.5,440) scale(0.9,1)">10-01</text>
<text transform="translate(537.1,440) scale(0.9,1)">11-01</text>
<text transform="translate(600.7,440) scale(0.9,1)">12-01</text>
<text transform="translate(671.2,440) scale(0.9,1)">01-01</text>
</g>
<g id="ylabels" text-anchor="end" class="ax">
<text transform="translate(723.9,98) scale(0.9,1)">75</text>
<text transform="translate(723.9,143) scale(0.9,1)">70</text>
<text transform="translate(723.9,187) scale(0.9,1)">65</text>
<text transform="translate(723.9,232) scale(0.9,1)">60</text>
<text transform="translate(723.9,277) scale(0.9,1)">55</text>
<text transform="translate(723.9,322) scale(0.9,1)">50</text>
<text transform="translate(723.9,366) scale(0.9,1)">45</text>
<text transform="translate(723.9,411) scale(0.9,1)">40</text>
</g>
<g id="cycles">
<rect x="672.9" y="108" width="1" height="269" fill="#ff0000"/>
<rect x="709.7" y="108" width="1" height="269" fill="#ff0000"/>
<text class="cyc" x="677.8" y="112.8">01-02</text>
<text class="cyc" x="715.3" y="112.8">01-14</text>
<text class="cyc" x="677.8" y="381.8">30</text>
<text class="cyc" x="715.3" y="381.8">42</text>
</g>
<text id="title" x="370.5" y="32.7" text-anchor="middle" font-family="&quot;Liberation Sans&quot;,&quot;Noto Sans CJK SC&quot;,sans-serif" font-weight="bold" font-size="20" fill="#333">恒瑞医药(600276)赢家螺旋历法时间循环</text>
</svg></body></html>
